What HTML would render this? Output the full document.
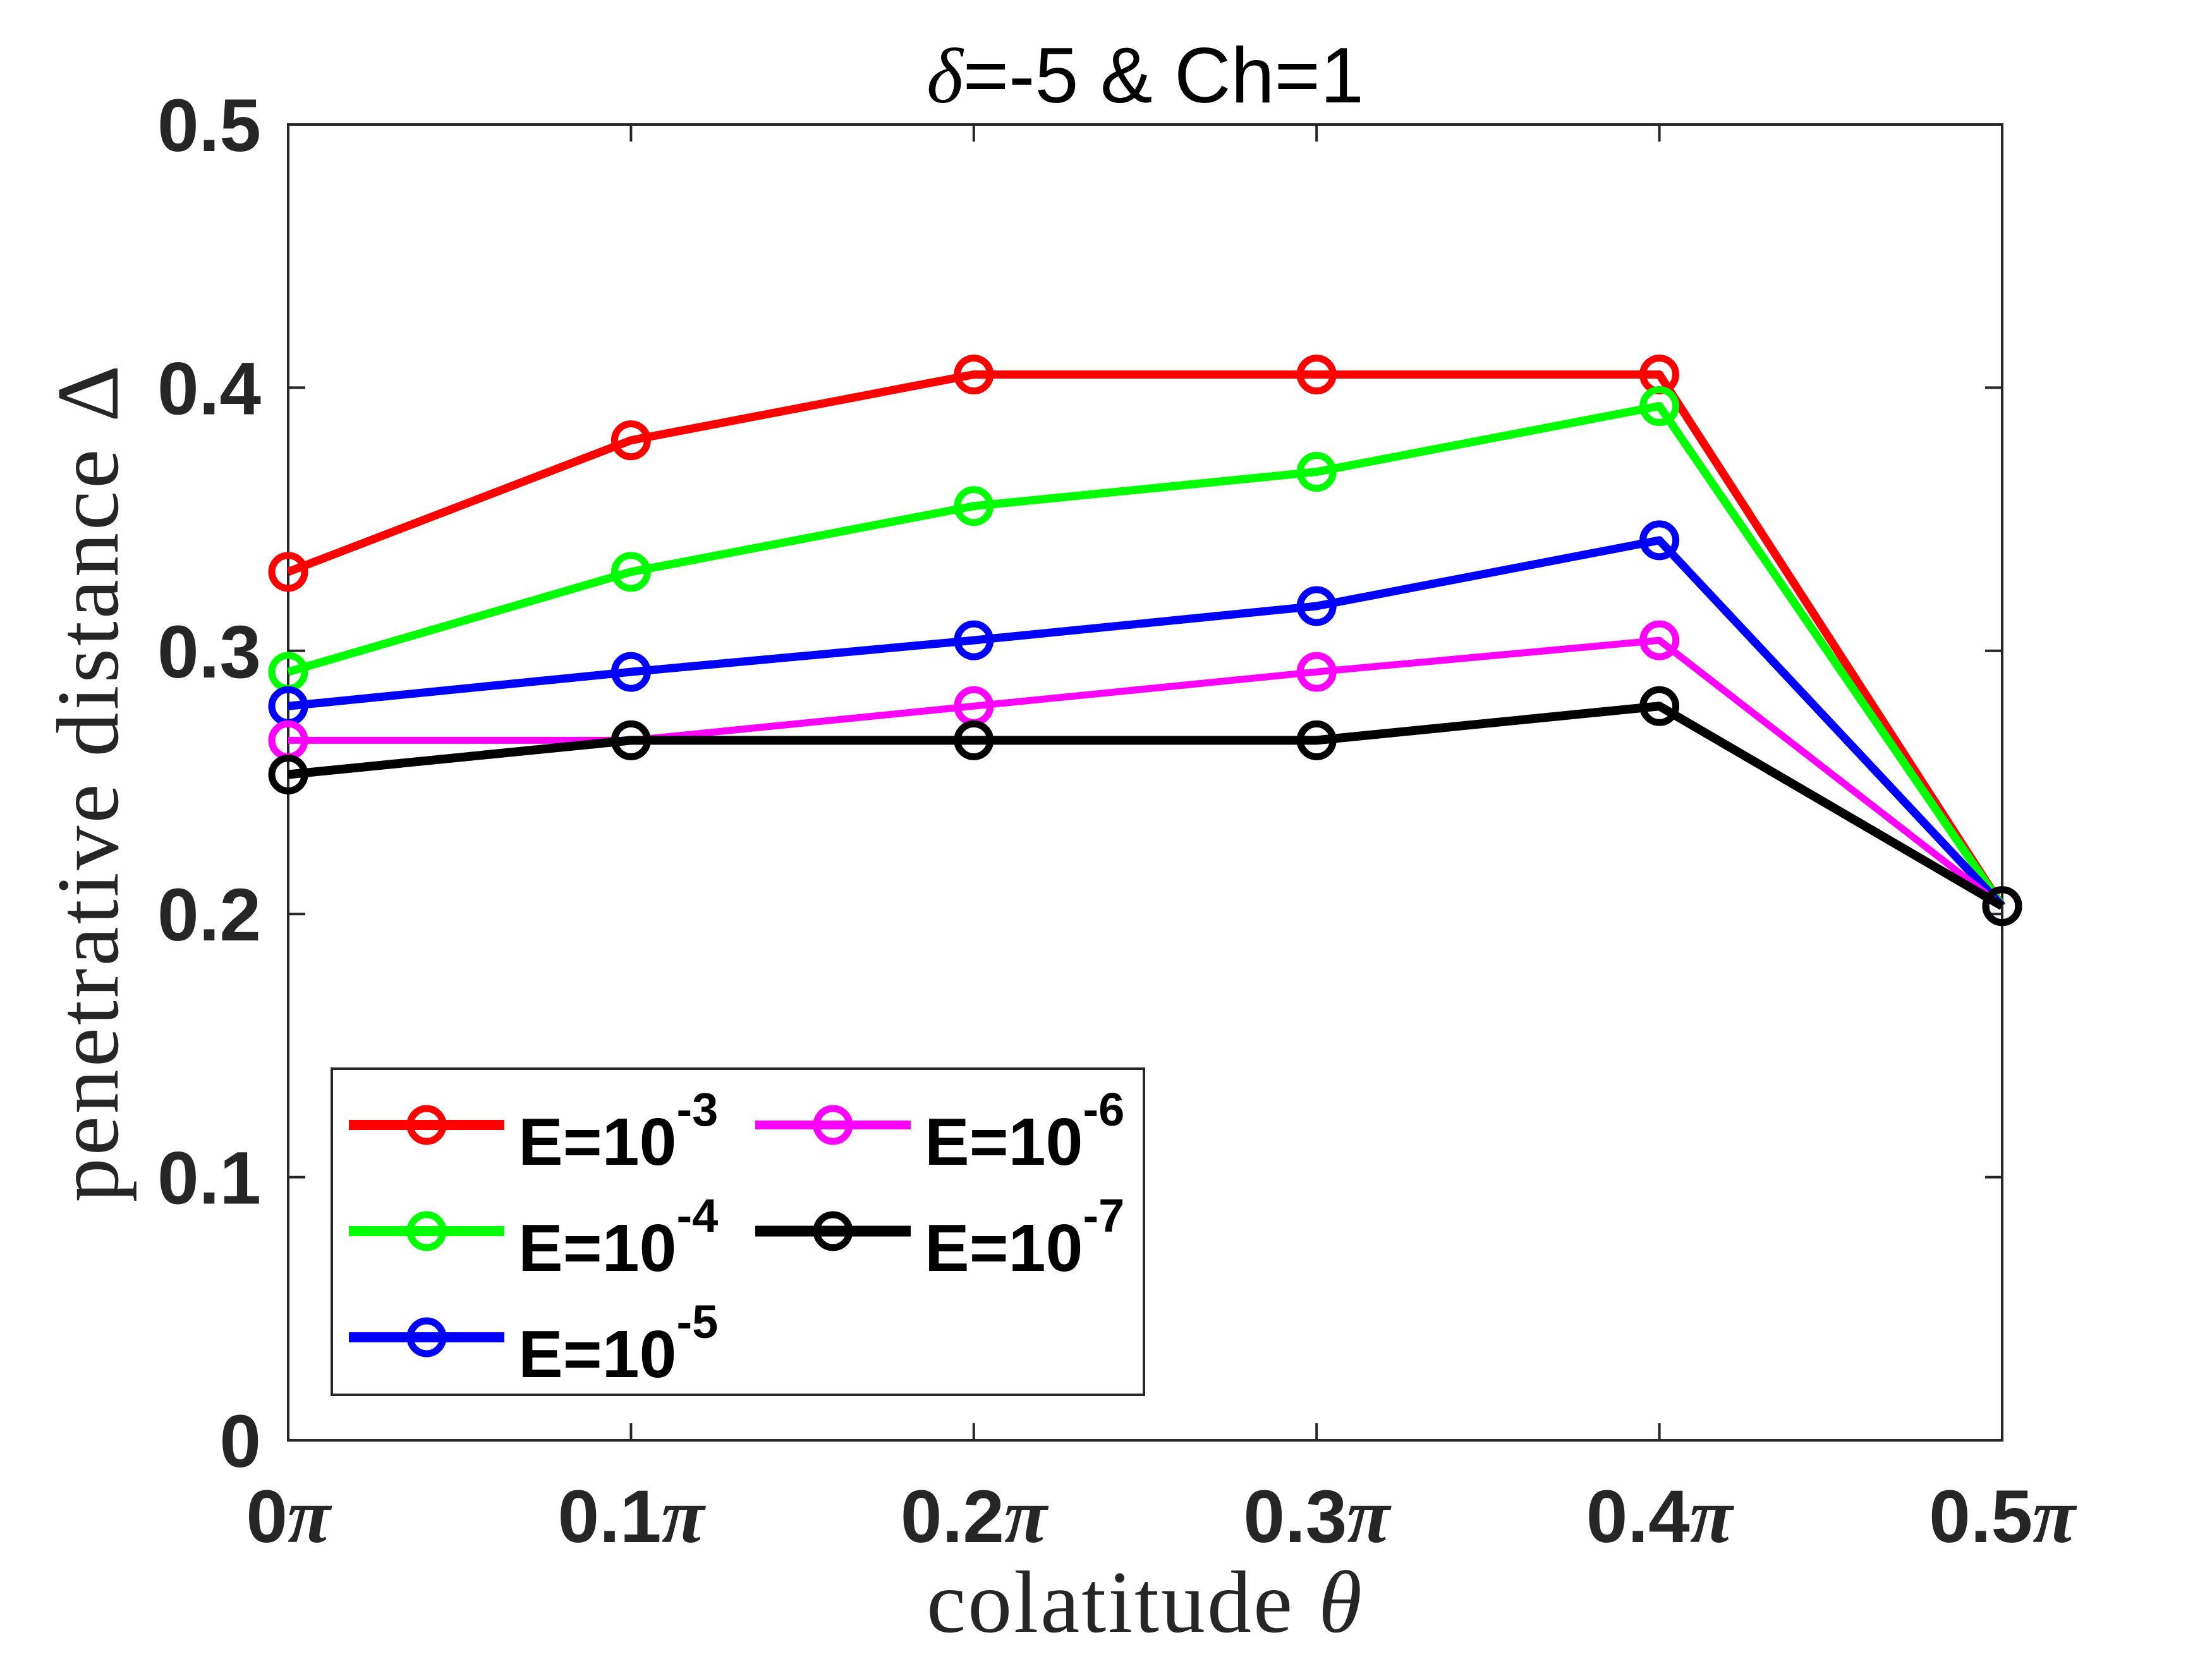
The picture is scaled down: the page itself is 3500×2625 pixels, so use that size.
<!DOCTYPE html>
<html><head><meta charset="utf-8"><style>
html,body{margin:0;padding:0;background:#fff}
svg{display:block}
.tk{font-family:"Liberation Sans",sans-serif;font-weight:bold;font-size:118px;fill:#262626}
.lg{font-family:"Liberation Sans",sans-serif;font-weight:bold;font-size:106px;fill:#000}
.ax{font-family:"Liberation Serif",serif;font-size:140px;fill:#262626}
</style></head><body>
<svg id="chart" width="3500" height="2625" viewBox="0 0 3500 2625" xmlns="http://www.w3.org/2000/svg">
<rect width="3500" height="2625" fill="#fff"/>
<rect x="456" y="197" width="2712" height="2082" fill="none" stroke="#262626" stroke-width="4"/>
<g id="ticks"></g>
<g id="series"></g>
<text x="1812" y="162" text-anchor="middle" font-family="Liberation Sans,sans-serif" font-size="124" fill="#000"><tspan font-family="Liberation Serif,serif" font-style="italic">δ</tspan>=-5 &amp; Ch=1</text>
<text class="ax" x="1812" y="2582" text-anchor="middle" letter-spacing="3">colatitude <tspan font-style="italic">θ</tspan></text>
<text class="ax" transform="translate(186,1238) rotate(-90)" text-anchor="middle" letter-spacing="4">penetrative distance Δ</text>
<g id="legend">
<rect x="525" y="1691" width="1285" height="516" fill="#fff" stroke="#262626" stroke-width="4"/>
</g>
</svg>
<script>
const categories=[0,0.1,0.2,0.3,0.4,0.5];
const xTickNums=["0","0.1","0.2","0.3","0.4","0.5"];
const yTicks=[0,0.1,0.2,0.3,0.4,0.5];
const yTickLabels=["0","0.1","0.2","0.3","0.4","0.5"];
const seriesE3=[0.330,0.380,0.405,0.405,0.405,0.203];
const seriesE4=[0.292,0.330,0.355,0.368,0.393,0.203];
const seriesE5=[0.279,0.292,0.304,0.317,0.342,0.203];
const seriesE6=[0.266,0.266,0.279,0.292,0.304,0.203];
const seriesE7=[0.253,0.266,0.266,0.266,0.279,0.203];
const NS="http://www.w3.org/2000/svg";
const L=456,R=3168,T=197,B=2279;
const xs=v=>L+(v-0)/(0.5)*(R-L);
const ys=v=>B-(v-0)/(0.5)*(B-T);
function mk(t,a,p){const e=document.createElementNS(NS,t);for(const k in a)e.setAttribute(k,a[k]);p.appendChild(e);return e;}
const tk=document.getElementById('ticks');
categories.forEach((c,i)=>{
 const x=xs(c);
 const l1=mk('line',{x1:x,x2:x,y1:B,y2:B-27,stroke:'#262626','stroke-width':4},tk);
 
 
 const l2=mk('line',{x1:x,x2:x,y1:T,y2:T+27,stroke:'#262626','stroke-width':4},tk);
 
 
 const t=mk('text',{x:x,y:2440,'text-anchor':'middle',class:'tk'},tk);
 
 
 t.appendChild(document.createTextNode(xTickNums[i]));
 const p=mk('tspan',{'font-family':'Liberation Serif,serif','font-style':'italic','font-size':124},t);
 p.textContent='π';
});
yTicks.forEach((v,i)=>{
 const y=ys(v);
 const l1=mk('line',{x1:L,x2:L+27,y1:y,y2:y,stroke:'#262626','stroke-width':4},tk);
 
 
 const l2=mk('line',{x1:R,x2:R-27,y1:y,y2:y,stroke:'#262626','stroke-width':4},tk);
 
 
 const t=mk('text',{x:413,y:y+42,'text-anchor':'end',class:'tk'},tk);
 t.textContent=yTickLabels[i];
 
 
});
const all=[seriesE3,seriesE4,seriesE5,seriesE6,seriesE7];
const colors=["#ff0000","#00ff00","#0000ff","#ff00ff","#000000"];
const widths=[13,13,13,11,14];
const sg=document.getElementById('series');
all.forEach((s,si)=>{
 const g=mk('g',{},sg);
 
 
 const pts=s.map((v,i)=>xs(categories[i])+','+ys(v)).join(' ');
 const pl=mk('polyline',{points:pts,fill:'none',stroke:colors[si],'stroke-width':widths[si],'stroke-linejoin':'round'},g);
 
 
 s.forEach((v,i)=>{
  const c=mk('circle',{cx:xs(categories[i]),cy:ys(v),r:26,fill:'none',stroke:colors[si],'stroke-width':11},g);
  
  
 });
});
const lg=document.getElementById('legend');
const pos=[[552,1780],[552,1948],[552,2116],[1195,1780],[1195,1948]];
const exps=["-3","-4","-5","-6","-7"];
pos.forEach((p,i)=>{
 const g=mk('g',{},lg);
 
 
 mk('line',{x1:p[0],x2:p[0]+246,y1:p[1],y2:p[1],stroke:colors[i],'stroke-width':widths[i]+3},g);
 mk('circle',{cx:p[0]+123,cy:p[1],r:26,fill:'none',stroke:colors[i],'stroke-width':11},g);
 const t=mk('text',{x:p[0]+268,y:p[1]+63,class:'lg'},g);
 
 
 t.appendChild(document.createTextNode('E=10'));
 const sp=mk('tspan',{dy:-62,'font-size':74},t);
 sp.textContent=exps[i];
});
</script>
</body></html>
